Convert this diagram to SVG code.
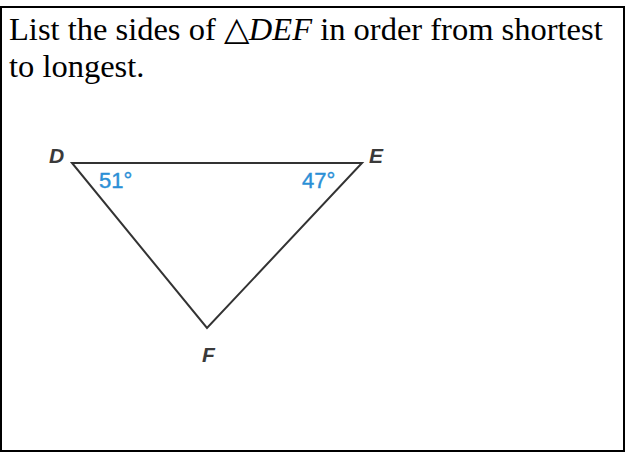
<svg xmlns="http://www.w3.org/2000/svg" width="626" height="455" viewBox="0 0 626 455">
<style>
.q{font-family:"Liberation Serif","Times New Roman",serif;font-size:32.5px;fill:#000}
.lbl{font-family:"Liberation Sans",Arial,sans-serif;font-size:21px;font-style:italic;font-weight:bold;fill:#3a3a3a}
.ang{font-family:"Liberation Sans",Arial,sans-serif;font-size:22px;fill:#2a8fd6;stroke:#2a8fd6;stroke-width:0.4}
.side{stroke:#333;stroke-width:2;fill:none;stroke-linejoin:miter}
</style>
<rect x="1" y="7" width="623" height="444" fill="#fff" stroke="#000" stroke-width="2"/>
<text class="q" x="9" y="40">List the sides of △<tspan font-style="italic">DEF</tspan> in order from shortest</text>
<text class="q" x="9" y="77">to longest.</text>
<g id="connectors">
<polygon class="side" points="72,163 362,163 207,328"/>
</g>
<g id="D"><text class="lbl" x="49" y="163">D</text></g>
<g id="E"><text class="lbl" x="369" y="163">E</text></g>
<g id="F"><text class="lbl" x="202" y="362">F</text></g>
<g id="angD"><text class="ang" x="99" y="188">51°</text></g>
<g id="angE"><text class="ang" x="302" y="188">47°</text></g>
</svg>
